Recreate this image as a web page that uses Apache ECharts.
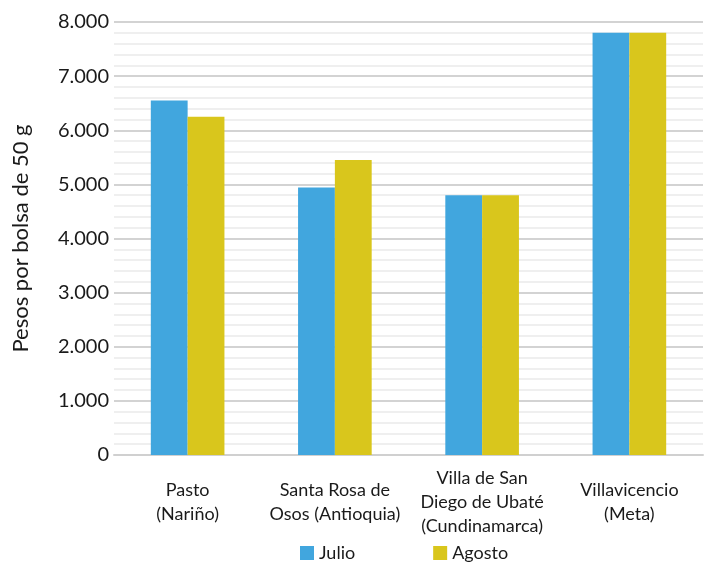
<!DOCTYPE html>
<html>
<head>
<meta charset="utf-8">
<script src="https://cdn.jsdelivr.net/npm/echarts@6/dist/echarts.min.js"></script>
<style>html,body{margin:0;padding:0;background:#fff}#c{width:710px;height:563px}</style>
</head>
<body>
<div id="c"></div>
<script>
var categories = ["Pasto\n(Nariño)", "Santa Rosa de\nOsos (Antioquia)", "Villa de San\nDiego de Ubaté\n(Cundinamarca)", "Villavicencio\n(Meta)"];
var julio = [6550, 4940, 4800, 7800];
var agosto = [6250, 5450, 4800, 7800];
var yTicks = [0, 1000, 2000, 3000, 4000, 5000, 6000, 7000, 8000];

var FONT = "Lato, 'DejaVu Sans', sans-serif";
var chart = echarts.init(document.getElementById('c'));
chart.setOption({
  animation: false,
  textStyle: { fontFamily: FONT },
  grid: { left: 114, right: 7, top: 22, bottom: 108, outerBoundsMode: 'none', containLabel: false },
  legend: {
    top: 544, left: 300,
    itemWidth: 14, itemHeight: 14, itemGap: 78,
    icon: 'rect',
    padding: 0,
    textStyle: { fontFamily: FONT, fontSize: 18, color: '#1a1a1a', padding: [2, 0, 0, 0] },
    data: ['Julio', 'Agosto']
  },
  xAxis: {
    type: 'category',
    data: categories,
    axisTick: { show: false },
    axisLine: { show: true, lineStyle: { color: '#d0d0d0', width: 2 } },
    axisLabel: {
      interval: 0, fontFamily: FONT, fontSize: 18, color: '#1a1a1a',
      lineHeight: 24, verticalAlign: 'middle', margin: 47
    }
  },
  yAxis: {
    type: 'value',
    min: yTicks[0], max: yTicks[yTicks.length - 1], interval: 1000,
    name: 'Pesos por bolsa de 50 g',
    nameLocation: 'middle', nameGap: 82, nameRotate: 90,
    nameTextStyle: { fontFamily: FONT, fontSize: 22, color: '#1a1a1a' },
    axisLine: { show: false },
    axisTick: { show: false },
    axisLabel: {
      fontFamily: FONT, fontSize: 20, color: '#1a1a1a', margin: 5,
      formatter: function (v) { return v.toString().replace(/\B(?=(\d{3})+(?!\d))/g, '.'); }
    },
    splitLine: { show: true, lineStyle: { color: '#d3d3d3', width: 2 } },
    minorTick: { show: false, splitNumber: 5 },
    minorSplitLine: { show: true, lineStyle: { color: '#efefef', width: 2 } }
  },
  series: [
    { name: 'Julio', type: 'bar', data: julio, barGap: '0%', barCategoryGap: '50%',
      itemStyle: { color: '#41a6de' } },
    { name: 'Agosto', type: 'bar', data: agosto,
      itemStyle: { color: '#d9c61c' } }
  ]
});
</script>
</body>
</html>
